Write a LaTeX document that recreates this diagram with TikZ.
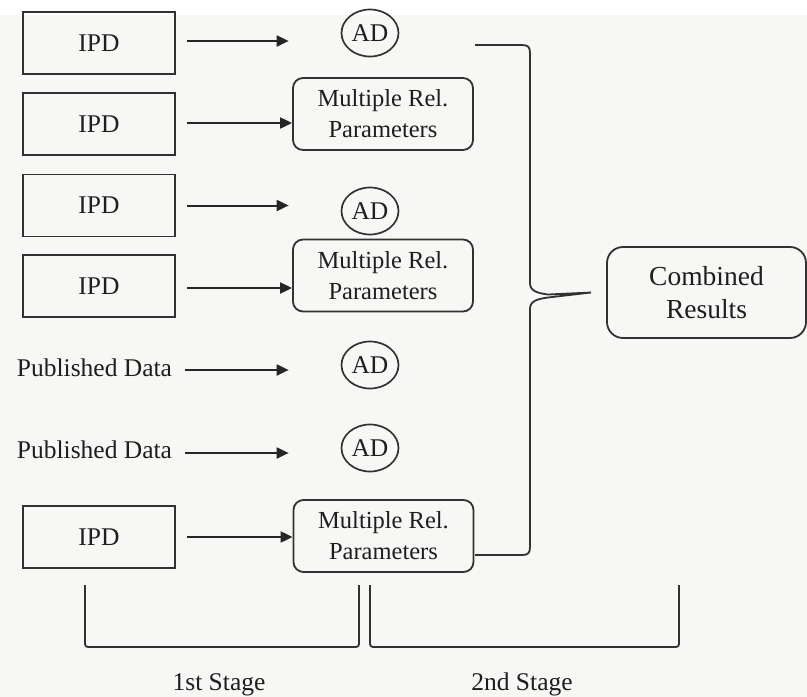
\documentclass[tikz,border=0pt]{standalone}
\usepackage{fontspec}
\setmainfont{Liberation Serif}
\usetikzlibrary{arrows.meta,shapes.geometric}
\definecolor{linec}{RGB}{50,50,50}
\definecolor{textc}{RGB}{30,30,30}
\definecolor{bgc}{RGB}{247,248,245}
\newcommand{\fsz}{\fontsize{25.5}{31}\selectfont}
\newcommand{\fmrp}{\fontsize{24.5}{31}\selectfont}
\newcommand{\fbig}{\fontsize{27.5}{33}\selectfont}
\begin{document}
\begin{tikzpicture}[x=1pt,y=-1pt,
  ipdbox/.style={draw=linec, line width=1.8pt, minimum width=152pt, minimum height=62pt, inner sep=0pt, text=textc, font=\fsz},
  adnode/.style={draw=linec, ellipse, line width=1.7pt, minimum width=57pt, minimum height=47pt, inner sep=0pt, text=textc, font=\fsz},
  mrpbox/.style={draw=linec, line width=1.8pt, rounded corners=10pt, minimum width=180pt, minimum height=72pt, inner sep=0pt, align=center, text=textc, font=\fmrp},
  combox/.style={draw=linec, line width=1.8pt, rounded corners=16pt, minimum width=199pt, minimum height=91pt, inner sep=0pt, align=center, text=textc, font=\fbig},
  plain/.style={inner sep=0pt, text=textc, font=\fsz},
  arr/.style={draw=black!85, line width=2pt, -{Triangle[length=12pt,width=11pt]}},
  brk/.style={draw=linec, line width=1.8pt}
]
\useasboundingbox (0,0) rectangle (807,697);
\fill[bgc] (0,15) rectangle (807,697);

% first column
\node[ipdbox] (ipd1) at (99,43) {IPD};
\node[ipdbox] (ipd2) at (99,124) {IPD};
\node[ipdbox] (ipd3) at (99,205.5) {IPD};
\node[ipdbox] (ipd4) at (99,286) {IPD};
\node[plain] (pub5) at (94.5,368) {Published Data};
\node[plain] (pub6) at (94.5,450) {Published Data};
\node[ipdbox] (ipd7) at (99,537) {IPD};

% second column
\node[adnode] (ad1) at (370,33) {AD};
\node[mrpbox] (mrp2) at (383,114) {Multiple Rel.\\Parameters};
\node[adnode] (ad3) at (370,211) {AD};
\node[mrpbox] (mrp4) at (383,275.5) {Multiple Rel.\\Parameters};
\node[adnode] (ad5) at (370,365) {AD};
\node[adnode] (ad6) at (370,448) {AD};
\node[mrpbox] (mrp7) at (383.5,536) {Multiple Rel.\\Parameters};

% combined
\node[combox] (comb) at (706.5,292.5) {Combined\\Results};

% arrows
\draw[arr, shorten <=11pt, shorten >=52pt] ([yshift=2pt]ipd1.east) -- ([yshift=2pt]ipd1.east -| ad1.west);
\draw[arr, shorten <=11pt] ([yshift=1pt]ipd2.east) -- ([yshift=1pt]ipd2.east -| mrp2.west);
\draw[arr, shorten <=11pt, shorten >=52pt] (ipd3.east) -- (ipd3.east -| ad3.west);
\draw[arr, shorten <=11pt] ([yshift=-2pt]ipd4.east) -- ([yshift=-2pt]ipd4.east -| mrp4.west);
\draw[arr, shorten <=13pt, shorten >=52pt] ([yshift=-2pt]pub5.east) -- ([yshift=-2pt]pub5.east -| ad5.west);
\draw[arr, shorten <=13pt, shorten >=52pt] ([yshift=-3pt]pub6.east) -- ([yshift=-3pt]pub6.east -| ad6.west);
\draw[arr, shorten <=11pt] (ipd7.east) -- (ipd7.east -| mrp7.west);

% bracket to combined results
\coordinate (btop) at (475,45);
\coordinate (bbot) at (475,555);
\coordinate (btip) at ([xshift=-15pt]comb.west);
\draw[brk] (btop) -- (522,45) .. controls (528,45) and (530,47) .. (530,53)
  -- (530,283) .. controls (530,291) and (537,293) .. (548,294.5) -- (btip)
  -- (548,297.5) .. controls (537,299) and (530,301) .. (530,309)
  -- (530,547) .. controls (530,553) and (528,555) .. (522,555) -- (bbot);

% stage brackets
\coordinate (s1a) at (85,585);
\coordinate (s1b) at (359,585);
\coordinate (s2a) at (370,585);
\coordinate (s2b) at (679,585);
\draw[brk, rounded corners=3pt] (s1a) -- (85,647) -- (359,647) -- (s1b);
\draw[brk, rounded corners=3pt] (s2a) -- (370,647) -- (679,647) -- (s2b);
\node[plain, anchor=base] (st1) at (219,690) {1st Stage};
\node[plain, anchor=base] (st2) at (522,690) {2nd Stage};
\end{tikzpicture}
\end{document}
